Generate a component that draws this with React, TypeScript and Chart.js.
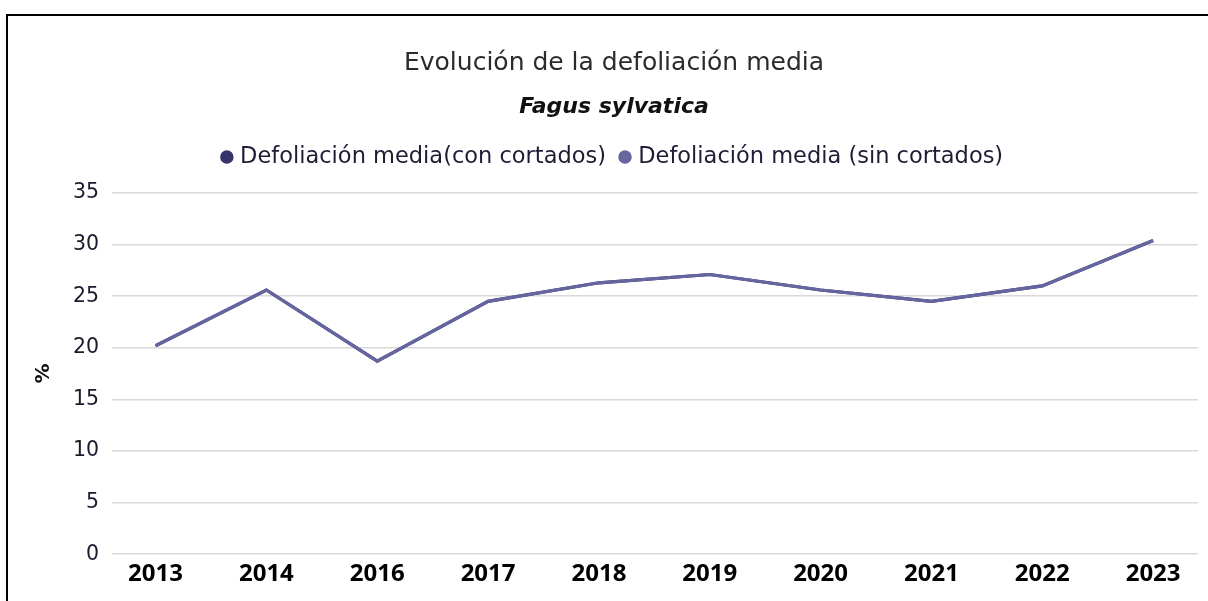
import React, { useEffect, useRef } from 'react';
import { Chart, registerables, layouts } from 'chart.js';

Chart.register(...registerables);

// ---- data ----
const YEARS = ['2013', '2014', '2016', '2017', '2018', '2019', '2020', '2021', '2022', '2023'];
const CON_CORTADOS = [20.2, 25.6, 18.7, 24.5, 26.3, 27.1, 25.6, 24.5, 26.0, 30.4];
const SIN_CORTADOS = [20.2, 25.6, 18.7, 24.5, 26.3, 27.1, 25.6, 24.5, 26.0, 30.4];
const SERIES_NAMES = ['Defoliación media(con cortados)', 'Defoliación media (sin cortados)'];
const Y_MIN = 0;
const Y_MAX = 35;
const Y_STEP = 5;
const TITLE = 'Evolución de la defoliación media';
const SUBTITLE = 'Fagus sylvatica';
const Y_TITLE = '%';

const spacerPlugin = {
  id: 'legendSpacer',
  beforeInit(chart: any) {
    const box: any = {
      position: 'top',
      weight: 0,
      fullSize: true,
      options: { position: 'top', stackWeight: 1 },
      left: 0,
      top: 0,
      right: 0,
      bottom: 0,
      width: 0,
      height: 0,
      isHorizontal() {
        return true;
      },
      update(maxWidth: number) {
        this.width = maxWidth;
        this.height = 14.75;
      },
      draw() {},
    };
    layouts.addBox(chart, box);
  },
};

export default function App() {
  const ref = useRef<HTMLCanvasElement | null>(null);

  useEffect(() => {
    if (!ref.current) return;
    const chart = new Chart(ref.current, {
      type: 'line',
      data: {
        datasets: [
          {
            label: SERIES_NAMES[0],
            data: CON_CORTADOS.map((v, i) => ({ x: i, y: v })),
            borderColor: '#35356b',
            backgroundColor: '#35356b',
            borderWidth: 3.2,
            pointRadius: 0,
            tension: 0,
            order: 1,
          },
          {
            label: SERIES_NAMES[1],
            data: SIN_CORTADOS.map((v, i) => ({ x: i, y: v })),
            borderColor: '#6565a0',
            backgroundColor: '#6868a3',
            borderWidth: 3.2,
            pointRadius: 0,
            tension: 0,
            order: 0,
          },
        ],
      },
      options: {
        responsive: false,
        animation: false,
        devicePixelRatio: 1,
        layout: { padding: { left: 30, right: 10, top: 0, bottom: 6 } },
        plugins: {
          title: {
            display: true,
            text: TITLE,
            color: '#2b2b2b',
            font: { family: '"DejaVu Sans"', size: 25, weight: 'normal' },
            padding: { top: 48, bottom: 0 },
          },
          subtitle: {
            display: true,
            text: SUBTITLE,
            color: '#111111',
            font: { family: '"DejaVu Sans"', size: 22, weight: 'bold', style: 'italic' },
            padding: { top: 15.8, bottom: 8.55 },
          },
          legend: {
            display: true,
            position: 'top',
            labels: {
              usePointStyle: true,
              pointStyle: 'circle',
              boxWidth: 4,
              boxHeight: 7.3,
              padding: 17,
              color: '#1d1d35',
              font: { family: '"DejaVu Sans"', size: 22.5 },
              sort: (a: any, b: any) => a.datasetIndex - b.datasetIndex,
            },
          },
          tooltip: { enabled: false },
        },
        scales: {
          x: {
            type: 'linear',
            min: -0.393,
            max: 9.405,
            afterBuildTicks: (scale: any) => {
              scale.ticks = YEARS.map((_, i) => ({ value: i }));
            },
            grid: { display: false, drawTicks: false },
            border: { display: false },
            ticks: {
              autoSkip: false,
              maxRotation: 0,
              padding: 6,
              color: '#000000',
              font: { family: '"Open Sans"', size: 24, weight: 'bold' },
              callback: (v: any) => YEARS[Math.round(Number(v))] ?? '',
            },
          },
          y: {
            min: Y_MIN,
            max: Y_MAX,
            afterFit: (scale: any) => {
              scale.width = 82;
            },
            ticks: {
              stepSize: Y_STEP,
              padding: 13,
              color: '#1a1a2e',
              font: { family: '"DejaVu Sans"', size: 20.5 },
            },
            grid: { color: '#d9d9d9', lineWidth: 1.5, drawTicks: false },
            border: { display: false },
            title: {
              display: true,
              text: Y_TITLE,
              color: '#111111',
              font: { family: '"DejaVu Sans"', size: 20, weight: 'bold' },
              padding: { top: 2, bottom: 0 },
            },
          },
        },
      },
      plugins: [spacerPlugin],
    } as any);
    return () => chart.destroy();
  }, []);

  return (
    <div style={{ position: 'fixed', left: 0, top: 0, width: 1208, height: 601, overflow: 'hidden', background: '#fff' }}>
      <canvas ref={ref} width={1208} height={601} style={{ position: 'absolute', left: 0, top: 0, width: 1208, height: 601 }} />
      <div
        style={{
          position: 'absolute',
          left: 6,
          top: 14,
          width: 1400,
          height: 800,
          borderLeft: '2px solid #000',
          borderTop: '2px solid #000',
          pointerEvents: 'none',
        }}
      />
    </div>
  );
}
